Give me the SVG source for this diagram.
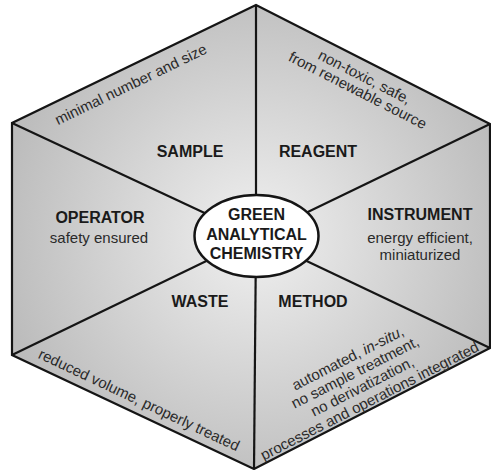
<svg xmlns="http://www.w3.org/2000/svg" width="491" height="470" viewBox="0 0 491 470">
<defs>
<radialGradient id="bg" gradientUnits="userSpaceOnUse" cx="256" cy="237" r="260">
<stop offset="0" stop-color="#f0f0f0"/>
<stop offset="1" stop-color="#bcbcbc"/>
</radialGradient>
<style>
.edge{fill:none;stroke:#151515;stroke-width:2.2;stroke-linejoin:miter}
.spoke{stroke:#151515;stroke-width:2.2}
.h{font-family:"Liberation Sans",Arial,sans-serif;font-weight:bold;font-size:16px;fill:#1a1a1a;text-anchor:middle}
.t{font-family:"Liberation Sans",Arial,sans-serif;font-size:15px;fill:#2a2a2a;text-anchor:middle}
</style>
</defs>
<rect width="491" height="470" fill="#ffffff"/>
<polygon points="256,5 490,124 490,348 254,469 12,355 12,123" fill="url(#bg)"/>
<g id="connectors">
<line class="spoke" x1="256" y1="237" x2="256" y2="5"/>
<line class="spoke" x1="256" y1="237" x2="490" y2="124"/>
<line class="spoke" x1="256" y1="237" x2="490" y2="348"/>
<line class="spoke" x1="256" y1="237" x2="254" y2="469"/>
<line class="spoke" x1="256" y1="237" x2="12" y2="355"/>
<line class="spoke" x1="256" y1="237" x2="12" y2="123"/>
</g>
<polygon class="edge" points="256,5 490,124 490,348 254,469 12,355 12,123"/>
<g id="sample">
<text class="h" x="190" y="157">SAMPLE</text>
<text class="t" transform="translate(133,89) rotate(-25.8)" x="0" y="0">minimal number and size</text>
</g>
<g id="reagent">
<text class="h" x="318" y="157">REAGENT</text>
<g transform="translate(360,86) rotate(27)">
<text class="t" x="0" y="-5">non-toxic, safe,</text>
<text class="t" x="0" y="10">from renewable source</text>
</g>
</g>
<g id="instrument">
<text class="h" x="420" y="220">INSTRUMENT</text>
<text class="t" x="420" y="243">energy efficient,</text>
<text class="t" x="420" y="260">miniaturized</text>
</g>
<g id="method">
<text class="h" x="313" y="307">METHOD</text>
<g transform="translate(361,384) rotate(-27)">
<text class="t" x="0" y="-24">automated, <tspan font-style="italic">in-situ</tspan>,</text>
<text class="t" x="0" y="-8">no sample treatment,</text>
<text class="t" x="0" y="8">no derivatization,</text>
<text class="t" x="0" y="24">processes and operations integrated</text>
</g>
</g>
<g id="waste">
<text class="h" x="200" y="307">WASTE</text>
<text class="t" transform="translate(139,400) rotate(25.2)" x="0" y="5">reduced volume, properly treated</text>
</g>
<g id="operator">
<text class="h" x="100" y="223">OPERATOR</text>
<text class="t" x="99" y="243">safety ensured</text>
</g>
<g id="center">
<ellipse cx="256.5" cy="236" rx="62" ry="41" fill="#ffffff" stroke="#151515" stroke-width="2.5"/>
<text class="h" x="256.5" y="220">GREEN</text>
<text class="h" x="256.5" y="240">ANALYTICAL</text>
<text class="h" x="256.5" y="259">CHEMISTRY</text>
</g>
</svg>
